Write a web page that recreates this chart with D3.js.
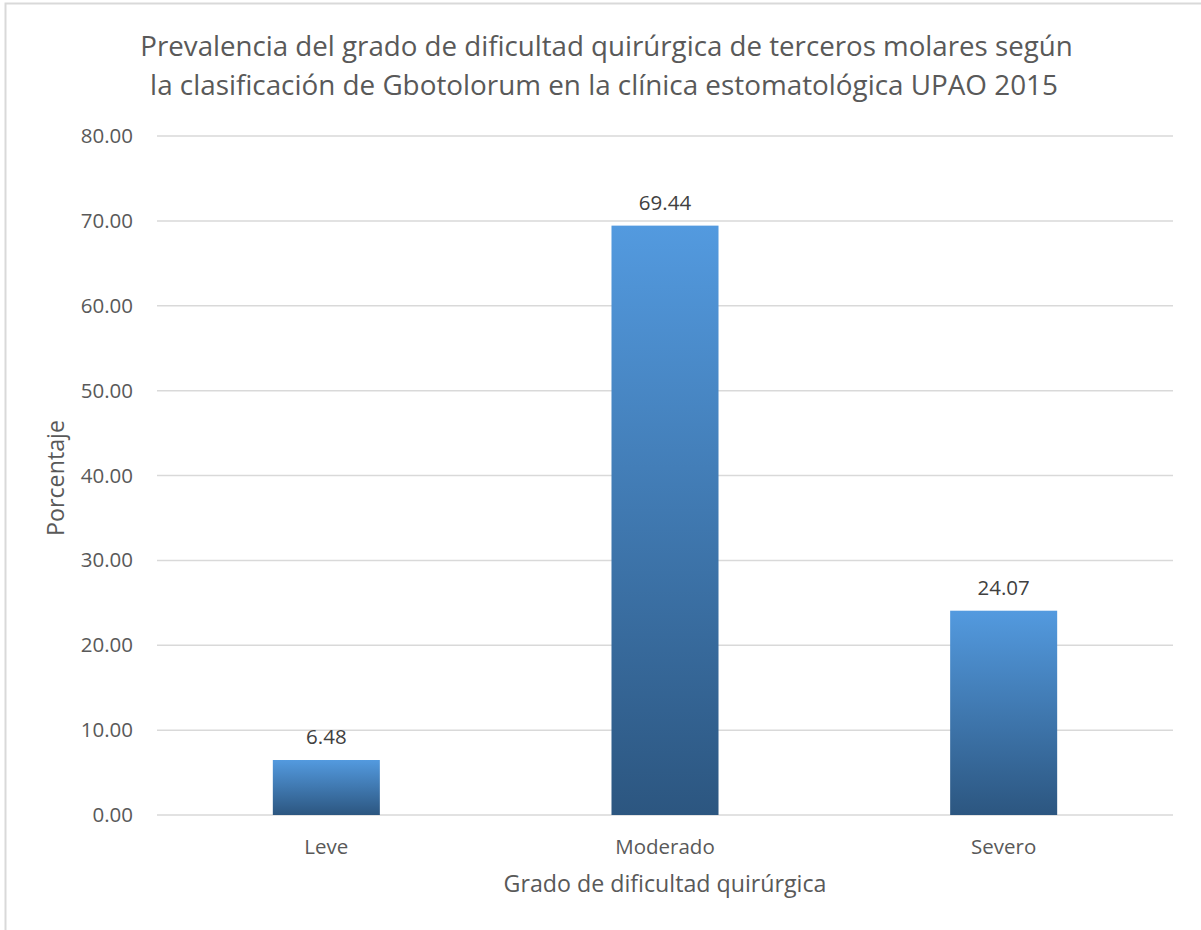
<!DOCTYPE html>
<html><head><meta charset="utf-8">
<script src="https://cdn.jsdelivr.net/npm/d3@7"></script>
<style>body{margin:0;background:#fff}svg{display:block}text{font-family:"Open Sans",sans-serif}</style>
</head><body>
<svg id="c" width="1201" height="930"></svg>
<script>
const categories = ["Leve", "Moderado", "Severo"];
const values = [6.48, 69.44, 24.07];
const yTicks = [0, 10, 20, 30, 40, 50, 60, 70, 80];
const titleLines = ["Prevalencia del grado de dificultad quirúrgica de terceros molares según",
                    "la clasificación de Gbotolorum en la clínica estomatológica UPAO 2015"];
const xTitle = "Grado de dificultad quirúrgica";
const yTitle = "Porcentaje";

const svg = d3.select("#c");
const W = 1201, H = 930;
const plot = {l: 157, r: 1173, t: 136, b: 815};
const FONT = '"Open Sans", sans-serif';

svg.append("rect").attr("x", 5.5).attr("y", 3.5).attr("width", W + 10).attr("height", H + 10)
  .attr("fill", "#fff").attr("stroke", "#d9d9d9").attr("stroke-width", 2);

const defs = svg.append("defs");
const g = defs.append("linearGradient").attr("id", "bg").attr("x1", 0).attr("y1", 0).attr("x2", 0).attr("y2", 1);
g.append("stop").attr("offset", "0%").attr("stop-color", "#539ADF");
g.append("stop").attr("offset", "100%").attr("stop-color", "#2C5680");

const x = d3.scaleBand().domain(categories).range([plot.l, plot.r]).padding(0);
const y = d3.scaleLinear().domain([0, 80]).range([plot.b, plot.t]);

function fit(sel, target) {
  sel.each(function() {
    const len = this.getComputedTextLength();
    const fs = parseFloat(d3.select(this).style("font-size"));
    d3.select(this).style("font-size", (fs * target / len).toFixed(2) + "px");
  });
}

// gridlines
svg.append("g").selectAll("line").data(yTicks).join("line")
  .attr("x1", plot.l).attr("x2", plot.r)
  .attr("y1", d => y(d)).attr("y2", d => y(d))
  .attr("stroke", "#d9d9d9").attr("stroke-width", 1.5);

// y axis labels
const yAxis = d3.axisLeft(y).tickValues(yTicks).tickFormat(d3.format(".2f")).tickSize(0).tickPadding(24);
const ya = svg.append("g").attr("transform", `translate(${plot.l},0)`).call(yAxis);
ya.select(".domain").remove();
ya.selectAll("text").attr("fill", "#595959").style("font-size", "20.5px").style("font-family", FONT);

// x axis labels
const xAxis = d3.axisBottom(x).tickSize(0).tickPadding(24);
const xa = svg.append("g").attr("transform", `translate(0,${plot.b})`).call(xAxis);
xa.select(".domain").remove();
xa.selectAll("text").attr("fill", "#595959").style("font-size", "20.5px").style("font-family", FONT);

const barW = x.bandwidth() * 0.316;
svg.append("g").selectAll("rect").data(values).join("rect")
  .attr("x", (d, i) => x(categories[i]) + (x.bandwidth() - barW) / 2)
  .attr("width", barW)
  .attr("y", d => y(d))
  .attr("height", d => y(0) - y(d))
  .attr("fill", "url(#bg)");

svg.append("g").selectAll("text").data(values).join("text")
  .attr("x", (d, i) => x(categories[i]) + x.bandwidth() / 2)
  .attr("y", d => y(d) - 16)
  .attr("text-anchor", "middle")
  .attr("fill", "#404040").style("font-size", "20.5px")
  .text(d => d3.format(".2f")(d));

const tl = svg.append("g").selectAll("text").data(titleLines).join("text")
  .attr("x", (d, i) => i === 0 ? 606.5 : 604).attr("y", (d, i) => 56 + i * 39)
  .attr("text-anchor", "middle").attr("fill", "#595959").style("font-size", "26px")
  .text(d => d);
fit(tl.filter((d, i) => i === 0), 933);
fit(tl.filter((d, i) => i === 1), 908);

const xt = svg.append("text").attr("x", 665).attr("y", 892).attr("text-anchor", "middle")
  .attr("fill", "#595959").style("font-size", "21px").text(xTitle);
fit(xt, 323);

const yt = svg.append("text").attr("transform", "translate(64,478) rotate(-90)").attr("text-anchor", "middle")
  .attr("fill", "#595959").style("font-size", "21px").text(yTitle);
fit(yt, 116);
</script>
</body></html>
